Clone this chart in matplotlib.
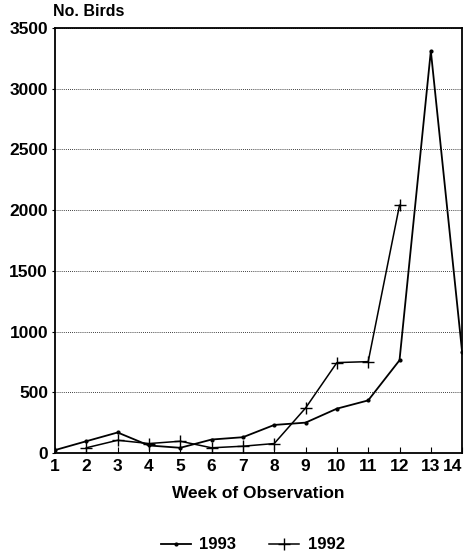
import matplotlib.pyplot as plt
import numpy as np

plt.rcParams['font.family'] = ['Liberation Sans', 'DejaVu Sans']
plt.rcParams['font.weight'] = 'bold'

weeks_1993 = [1, 2, 3, 4, 5, 6, 7, 8, 9, 10, 11, 12, 13, 14]
birds_1993 = [25, 98, 170, 63, 44, 112, 131, 232, 251, 366, 434, 764, 3310, 830]

weeks_1992 = [2, 3, 4, 5, 6, 7, 8, 9, 10, 11, 12]
birds_1992 = [44, 106, 79, 98, 44, 57, 79, 371, 745, 753, 2040]

x_ticks = list(range(1, 15))
y_ticks = [0, 500, 1000, 1500, 2000, 2500, 3000, 3500]

fig = plt.figure(figsize=(4.68, 5.56), dpi=100)
ax = fig.add_axes([0.1175, 0.185, 0.870, 0.765])

l1, = ax.plot(weeks_1993, birds_1993, color='black', lw=1.3,
              marker='.', markersize=4, label='1993')
l2, = ax.plot(weeks_1992, birds_1992, color='black', lw=1.1,
              marker='+', markersize=9, markeredgewidth=1.0, label='1992')

ax.set_xlim(1, 14)
ax.set_ylim(0, 3500)
ax.set_xticks(x_ticks)
ax.set_yticks(y_ticks)
ax.tick_params(axis='x', direction='in', length=4, labelsize=12.5, pad=4)
ax.tick_params(axis='y', direction='out', length=2, labelsize=12.5, pad=3)
for lab in ax.get_xticklabels() + ax.get_yticklabels():
    lab.set_fontweight('bold')
ax.get_xticklabels()[-1].set_horizontalalignment('right')
ax.get_xticklabels()[-1].set_x(14)
ax.grid(axis='y', linestyle=(0, (1, 1.5)), color='black', lw=0.6)
for s in ax.spines.values():
    s.set_linewidth(1.3)

ax.set_xlabel('Week of Observation', fontsize=12.5, fontweight='bold', labelpad=9)
fig.text(0.113, 0.966, 'No. Birds', fontsize=11.5, fontweight='bold', ha='left', va='bottom')

fig.legend(handles=[l1, l2], loc='center', bbox_to_anchor=(0.54, 0.02), ncol=2,
           frameon=False, handlelength=1.8, columnspacing=2.0, handletextpad=0.5,
           prop={'weight': 'bold', 'size': 12})

plt.savefig('out.png', dpi=100)
